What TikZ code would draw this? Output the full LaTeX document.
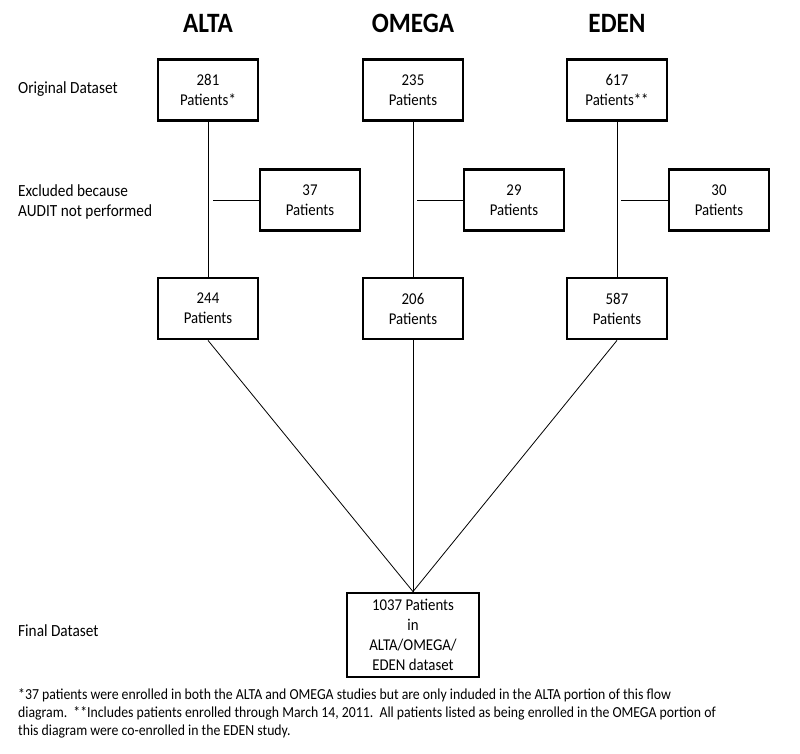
\documentclass[tikz,border=0pt]{standalone}
\usepackage{fontspec}
\setmainfont{Carlito}[FakeStretch=0.9]
\begin{document}
\begin{tikzpicture}[x=1pt,y=-1pt,
  box/.style={draw,line width=2.8pt,minimum width=100pt,minimum height=61pt,align=center,font=\fontsize{16.5}{20}\selectfont,inner sep=0pt},
  conn/.style={line width=0.8pt},
  hdr/.style={font=\bfseries\fontsize{28}{30}\selectfont},
  lbl/.style={anchor=west,align=left,font=\fontsize{17}{20}\selectfont,inner sep=0pt}]
\useasboundingbox (0,0) rectangle (800,754);
% headers
\node[hdr] (hA) at (208,23) {ALTA};
\node[hdr] (hO) at (413,23) {OMEGA};
\node[hdr] (hE) at (617,23) {EDEN};
% left labels
\node[lbl] (l1) at (18,89) {Original Dataset};
\node[lbl] (l2) at (18,202) {Excluded because\\AUDIT not performed};
\node[lbl] (l3) at (18,631) {Final Dataset};
% top boxes
\node[box] (tA) at (208,90) {281\\Patients*};
\node[box] (tO) at (413,90) {235\\Patients};
\node[box] (tE) at (617,90) {617\\Patients**};
% excluded boxes
\node[box] (xA) at (310,200) {37\\Patients};
\node[box] (xO) at (514,200) {29\\Patients};
\node[box] (xE) at (719,200) {30\\Patients};
% middle boxes
\node[box] (mA) at (208,308.5) {244\\Patients};
\node[box] (mO) at (413,308.5) {206\\Patients};
\node[box] (mE) at (617,308.5) {587\\Patients};
% final box
\node[box,minimum width=132pt,minimum height=84pt] (F) at (413,635) {1037 Patients\\in\\ALTA/OMEGA/\\EDEN dataset};
% connectors
\foreach \c in {A,O,E}{
  \draw[conn] (t\c.south) -- (m\c.north);
}
\coordinate (sA) at (213,200);
\coordinate (sO) at (417,200);
\coordinate (sE) at (621,200);
\draw[conn] (sA) -- (xA.west|-sA);
\draw[conn] (sO) -- (xO.west|-sO);
\draw[conn] (sE) -- (xE.west|-sE);
\draw[conn] (mA.south) -- (F.north);
\draw[conn] (mO.south) -- (F.north);
\draw[conn] (mE.south) -- (F.north);
% footnote
\node[anchor=north west,align=left,inner sep=0pt,font=\fontsize{15.3}{18}\selectfont] (fn) at (18,688) {*37 patients were enrolled in both the ALTA and OMEGA studies but are only induded in the ALTA portion of this flow\\diagram.\ \ **Includes patients enrolled through March 14, 2011.\ \ All patients listed as being enrolled in the OMEGA portion of\\this diagram were co-enrolled in the EDEN study.};
\end{tikzpicture}
\end{document}
